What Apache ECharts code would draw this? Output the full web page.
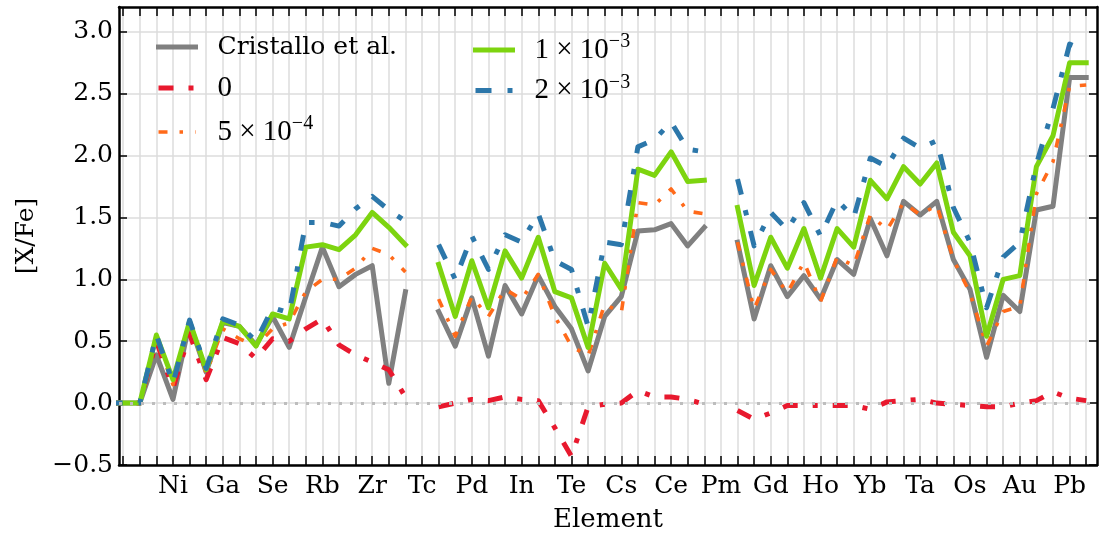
<!DOCTYPE html>
<html lang="en">
<head>
<meta charset="utf-8">
<script src="https://cdn.jsdelivr.net/npm/echarts@6/dist/echarts.min.js"></script>
<style>
    html, body { margin: 0; padding: 0; background: #fff; }
    #main { width: 1100px; height: 536px; }
</style>
</head>
<body>
<div id="main"></div>
<script>
    // elements from Cr (Z=24) to Bi (Z=83)
    var zStart = 24;
    var elements = ['Cr','Mn','Fe','Co','Ni','Cu','Zn','Ga','Ge','As','Se','Br','Kr','Rb','Sr','Y','Zr','Nb','Mo','Tc',
                    'Ru','Rh','Pd','Ag','Cd','In','Sn','Sb','Te','I','Xe','Cs','Ba','La','Ce','Pr','Nd','Pm','Sm','Eu',
                    'Gd','Tb','Dy','Ho','Er','Tm','Yb','Lu','Hf','Ta','W','Re','Os','Ir','Pt','Au','Hg','Tl','Pb','Bi'];
    // labelled ticks (every third element)
    var labelZ = [28, 31, 34, 37, 40, 43, 46, 49, 52, 55, 58, 61, 64, 67, 70, 73, 76, 79, 82];
    var yTicks = [-0.5, 0, 0.5, 1.0, 1.5, 2.0, 2.5, 3.0];

    // [X/Fe] per element, null where missing
    var cristallo = [0, 0, 0, 0.39, 0.03, 0.65, 0.25, 0.65, 0.62, 0.47, 0.70, 0.45, 0.86, 1.26, 0.94, 1.04, 1.11, 0.16, 0.90, null,
                     0.74, 0.46, 0.85, 0.38, 0.95, 0.72, 1.03, 0.78, 0.60, 0.26, 0.70, 0.86, 1.39, 1.40, 1.45, 1.27, 1.42, null, 1.30, 0.68,
                     1.11, 0.86, 1.03, 0.84, 1.16, 1.04, 1.49, 1.19, 1.63, 1.52, 1.63, 1.16, 0.92, 0.37, 0.87, 0.74, 1.56, 1.59, 2.63, 2.63];
    var run0 = [0, 0, 0, 0.50, 0.12, 0.56, 0.19, 0.53, 0.48, 0.36, 0.52, 0.50, 0.60, 0.68, 0.47, 0.39, 0.33, 0.27, 0.05, null,
                -0.03, 0.00, 0.03, 0.02, 0.05, 0.03, 0.02, -0.20, -0.43, -0.03, -0.01, 0.00, 0.10, 0.05, 0.05, 0.03, -0.01, null, -0.06, -0.13,
                -0.08, -0.02, -0.02, -0.02, -0.02, -0.02, -0.05, 0.01, 0.02, 0.03, 0.00, -0.01, -0.02, -0.03, -0.03, 0.00, 0.02, 0.09, 0.04, 0.02];
    var run5e4 = [0, 0, 0, 0.52, 0.15, 0.65, 0.24, 0.60, 0.52, 0.46, 0.60, 0.65, 0.90, 1.00, 1.00, 1.09, 1.25, 1.20, 1.06, null,
                  0.84, 0.54, 0.86, 0.70, 0.92, 0.84, 1.04, 0.70, 0.46, 0.38, 0.80, 0.73, 1.62, 1.60, 1.73, 1.55, 1.53, null, 1.30, 0.76,
                  1.08, 0.89, 1.14, 0.82, 1.18, 1.11, 1.52, 1.40, 1.62, 1.52, 1.60, 1.16, 0.89, 0.46, 0.74, 0.78, 1.69, 1.95, 2.56, 2.57];
    var run1e3 = [0, 0, 0, 0.55, 0.19, 0.66, 0.27, 0.66, 0.62, 0.46, 0.72, 0.68, 1.26, 1.28, 1.24, 1.36, 1.54, 1.42, 1.28, null,
                  1.12, 0.70, 1.15, 0.77, 1.23, 1.01, 1.34, 0.90, 0.85, 0.45, 1.13, 0.92, 1.89, 1.84, 2.03, 1.79, 1.80, null, 1.58, 0.95,
                  1.34, 1.09, 1.41, 1.01, 1.41, 1.26, 1.80, 1.65, 1.91, 1.77, 1.94, 1.38, 1.19, 0.54, 1.00, 1.03, 1.91, 2.16, 2.75, 2.75];
    var run2e3 = [0, 0, 0, 0.55, 0.16, 0.67, 0.28, 0.68, 0.63, 0.50, 0.77, 0.73, 1.46, 1.46, 1.43, 1.57, 1.67, 1.56, 1.47, null,
                  1.28, 1.00, 1.35, 1.08, 1.36, 1.30, 1.53, 1.15, 1.08, 0.62, 1.30, 1.28, 2.07, 2.13, 2.27, 2.05, 2.03, null, 1.81, 1.27,
                  1.54, 1.40, 1.62, 1.35, 1.64, 1.50, 1.98, 1.91, 2.14, 2.06, 2.12, 1.58, 1.30, 0.77, 1.18, 1.30, 1.93, 2.38, 2.90, 2.85];

    var allZ = elements.map(function (e, i) { return zStart + i; });
    function pts(vals) {
        return vals.map(function (v, i) { return [zStart + i, v === null ? '-' : v]; });
    }

    var serif = 'DejaVu Serif';
    var math = 'Liberation Serif';
    var legendText = {
        'Cristallo et al.': 'Cristallo et al.',
        '0': '{m|0}',
        '5e-4': '{m|5 × 10}{sup|−4}',
        '1e-3': '{m|1 × 10}{sup|−3}',
        '2e-3': '{m|2 × 10}{sup|−3}'
    };
    var rich = {
        m: { fontFamily: math, fontSize: 29, color: '#000' },
        sup: { fontFamily: math, fontSize: 20, color: '#000', padding: [0, 0, 16, 0] }
    };

    function legendBox(names, left, gap) {
        return {
            data: names,
            orient: 'vertical',
            left: left,
            top: 27,
            itemWidth: 37,
            itemHeight: 14,
            itemGap: gap,
            selectedMode: false,
            itemStyle: { opacity: 0 },
            lineStyle: { width: 'inherit' },
            formatter: function (n) { return legendText[n]; },
            textStyle: { fontFamily: serif, fontSize: 25, color: '#000', lineHeight: 30, padding: [0, 0, 0, 17], rich: rich }
        };
    }

    function xAxisDef(pos, main) {
        return {
            type: 'value', min: 24.75, max: 83.65, position: pos,
            axisLine: { show: true, onZero: false, lineStyle: { color: '#000', width: 2.5 } },
            axisTick: { show: true, inside: true, length: 9, customValues: allZ, lineStyle: { color: '#000', width: 1.5 } },
            axisLabel: {
                show: main, customValues: labelZ, margin: 9,
                formatter: function (v) { return elements[v - zStart]; },
                fontFamily: serif, fontSize: 25, color: '#000'
            },
            splitLine: { show: main, lineStyle: { color: '#dcdcdc', width: 1.5 } },
            name: main ? 'Element' : '', nameLocation: 'middle', nameGap: 42,
            nameTextStyle: { fontFamily: serif, fontSize: 26, color: '#000' }
        };
    }

    function yAxisDef(pos, main) {
        return {
            type: 'value', min: -0.5, max: 3.2, position: pos,
            axisLine: { show: true, onZero: false, lineStyle: { color: '#000', width: 2.5 } },
            axisTick: { show: true, inside: true, length: 8, customValues: yTicks, lineStyle: { color: '#000', width: 1.5 } },
            axisLabel: {
                show: main, customValues: yTicks, margin: 6,
                formatter: function (v) { return v < 0 ? '−' + Math.abs(v).toFixed(1) : v.toFixed(1); },
                fontFamily: serif, fontSize: 25, color: '#000'
            },
            splitLine: { show: main, lineStyle: { color: '#dcdcdc', width: 1.5 } },
            name: main ? '[X/Fe]' : '', nameLocation: 'middle', nameGap: 80,
            nameTextStyle: { fontFamily: serif, fontSize: 25, color: '#000' }
        };
    }

    function line(name, vals, color, width, dash, cap) {
        return {
            name: name, type: 'line', data: pts(vals), symbol: 'none',
            connectNulls: false, clip: true,
            itemStyle: { color: color },
            lineStyle: { color: color, width: width, type: dash, cap: cap, join: 'round' }
        };
    }

    var series = [
        line('Cristallo et al.', cristallo, '#808080', 5, 'solid', 'square'),
        line('0', run0, '#e8192e', 5, [15, 15, 5, 15], 'butt'),
        line('5e-4', run5e4, '#ff6a1a', 3.6, [9, 12, 3.5, 12], 'butt'),
        line('1e-3', run1e3, '#7dd40f', 5, 'solid', 'square'),
        line('2e-3', run2e3, '#2c77aa', 5, [16, 16, 5.5, 16], 'butt')
    ];
    series[0].markLine = {
        silent: true, symbol: 'none', label: { show: false },
        lineStyle: { color: '#bdbdbd', width: 3, type: [3, 8] },
        data: [{ yAxis: 0 }]
    };

    var chart = echarts.init(document.getElementById('main'));
    chart.setOption({
        animation: false,
        grid: { left: 119, right: 3, top: 7, bottom: 71, outerBoundsMode: 'none' },
        legend: [
            legendBox(['Cristallo et al.', '0', '5e-4'], 151, 11),
            legendBox(['1e-3', '2e-3'], 468, 7.5)
        ],
        xAxis: [xAxisDef('bottom', true), xAxisDef('top', false)],
        yAxis: [yAxisDef('left', true), yAxisDef('right', false)],
        series: series
    });
</script>
</body>
</html>
